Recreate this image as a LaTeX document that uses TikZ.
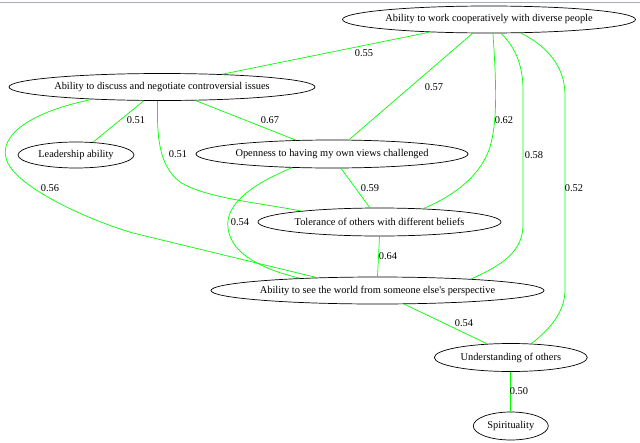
\documentclass[tikz,border=0pt]{standalone}
\usepackage{fontspec}
\setmainfont{Liberation Serif}
\usetikzlibrary{shapes.geometric}
\definecolor{edgegreen}{RGB}{0,255,0}
\definecolor{topline}{RGB}{165,170,192}
\begin{document}
\begin{tikzpicture}[x=1pt,y=-1pt,
  vnode/.style={draw=black, line width=0.7pt, ellipse, inner sep=0pt, font=\fontsize{10.4}{12}\selectfont},
  conn/.style={draw=edgegreen, line width=0.7pt},
  wlabel/.style={font=\fontsize{10.4}{12}\selectfont, inner sep=0pt}]
\useasboundingbox (0,0) rectangle (640,442);
\fill[white] (0,0) rectangle (640,442);
\draw[topline, line width=1.5pt] (0,2.5) -- (640,2.5);

% nodes
\node[vnode, minimum width=293pt, minimum height=27pt] (n1) at (489,19.5) {\makebox[0pt]{Ability to work cooperatively with diverse people}};
\node[vnode, minimum width=306pt, minimum height=27pt] (n2) at (162,87) {\makebox[0pt]{Ability to discuss and negotiate controversial issues}};
\node[vnode, minimum width=116pt, minimum height=26pt] (n3) at (76,155) {\makebox[0pt]{Leadership ability}};
\node[vnode, minimum width=272pt, minimum height=28pt] (n4) at (332,154) {\makebox[0pt]{Openness to having my own views challenged}};
\node[vnode, minimum width=243pt, minimum height=28pt] (n5) at (379.5,222) {\makebox[0pt]{Tolerance of others with different beliefs}};
\node[vnode, minimum width=333pt, minimum height=27pt] (n6) at (377.5,290.5) {\makebox[0pt]{Ability to see the world from someone else\textquotesingle s perspective}};
\node[vnode, minimum width=153pt, minimum height=28pt] (n7) at (510.8,357.5) {\makebox[0pt]{Understanding of others}};
\node[vnode, minimum width=75pt, minimum height=28pt] (n8) at (510.8,426) {\makebox[0pt]{Spirituality}};

% connectors
\draw[conn] (n1.192.7) -- (n2.12.4);
\draw[conn] (n1.220.2) -- (n4.40.9);
\draw[conn] (n1.286.5) .. controls (496,80) and (498,120) .. (490,147) .. controls (482,172) and (460,193) .. (n5.17.8);
\draw[conn] (n1.311.6) .. controls (513,45) and (523,62) .. (523,90) -- (523,225) .. controls (523,255) and (495,268) .. (n6.7.7);
\draw[conn] (n1.337.8) .. controls (545,45) and (565,65) .. (565,95) -- (565,290) .. controls (565,315) and (545,333) .. (n7.34.7);
\draw[conn] (n2.217.4) -- (n3.37.4);
\draw[conn] (n2.338.5) -- (n4.159.1);
\draw[conn] (n2.252.9) .. controls (157,135) and (158,165) .. (180,182) .. controls (205,198) and (260,203) .. (n5.172.5);
\draw[conn] (n2.190.2) .. controls (30,112) and (0,135) .. (6,158) .. controls (12,185) and (85,219) .. (133,233) -- (n6.168.5);
\draw[conn] (n4.302.7) -- (n5.124.2);
\draw[conn] (n4.199.3) .. controls (250,185) and (225,205) .. (228,228) .. controls (231,255) and (265,270) .. (n6.171);
\draw[conn] (n5.270) -- (n6.90);
\draw[conn] (n6.333.9) -- (n7.150.4);
\draw[conn] (n7.south) -- (n8.north);

% labels
\node[wlabel] (l1) at (364,53) {0.55};
\node[wlabel] (l2) at (434,87) {0.57};
\node[wlabel] (l3) at (504,120) {0.62};
\node[wlabel] (l4) at (534,155) {0.58};
\node[wlabel] (l5) at (574,188) {0.52};
\node[wlabel] (l6) at (136,120) {0.51};
\node[wlabel] (l7) at (270,120) {0.67};
\node[wlabel] (l8) at (178,154) {0.51};
\node[wlabel] (l9) at (50,188) {0.56};
\node[wlabel] (l10) at (370,188) {0.59};
\node[wlabel] (l11) at (240,222) {0.54};
\node[wlabel] (l12) at (388,256) {0.64};
\node[wlabel] (l13) at (464,323) {0.54};
\node[wlabel] (l14) at (519,391) {0.50};
\end{tikzpicture}
\end{document}
